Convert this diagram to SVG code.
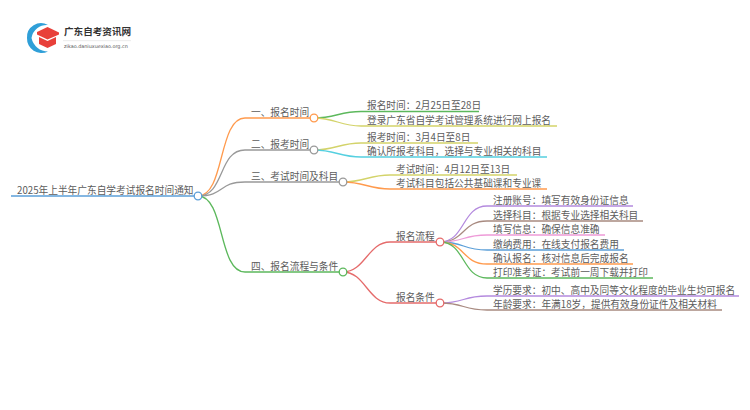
<svg xmlns="http://www.w3.org/2000/svg" width="750" height="410" viewBox="0 0 750 410">
<style>
text{font-family:"Noto Sans CJK SC","Liberation Sans",sans-serif;font-size:9.7px;fill:#5c5c5c}
.c path{fill:none;stroke-width:1.3}
circle{fill:#fff;stroke-width:1.3}
.o{stroke:#ff9a4d}.g{stroke:#999}.n{stroke:#5cb85c}.y{stroke:#d3d36a}.a{stroke:#55d0e0}.r{stroke:#e56b6b}.p{stroke:#b48ade}.b{stroke:#a88a80}.k{stroke:#ee9bd8}.l{stroke:#5b9fd8}
</style>
<rect width="750" height="410" fill="#fff"/>
<g id="logo">
<path d="M48 25A14 14 0 0 0 27 38A14.500 14.500 0 0 0 48 51.500A17 17 0 0 1 31.500 38A15.500 15.500 0 0 1 48 25Z" fill="#2f9fd8"/>
<path d="M47.500 27L59 32.500V34.500L47.500 39.500L37 34.500V32Z" fill="#e8403a"/>
<path d="M39 37L47.500 41L56 37V44L47.500 48L39 44Z" fill="#e8403a"/>
<text id="logo-title" x="64" y="35" style="font-size:9.6px;fill:#333;font-weight:700">广东自考资讯网</text>
<rect x="63" y="40.500" width="68" height="0.600" fill="#ddd"/>
<text id="logo-sub" x="64" y="48" style="font-family:'DejaVu Sans',sans-serif;font-size:4.900px;fill:#555">zikao.daniuxuexiao.org.cn</text>
</g>
<g class="c" id="connectors">
<path class="l" d="M11 196H198"/>
<path class="o" d="M198 196C225 196 218 118 245 118H314"/>
<path class="g" d="M198 196C225 196 218 150 245 150H314"/>
<path class="g" d="M198 196C225 196 218 182 245 182H343"/>
<path class="n" d="M198 196C225 196 218 272 245 272H343"/>
<path class="n" d="M314 118C335 118 340 111.500 361 111.500H479"/>
<path class="y" d="M314 118C335 118 340 126 361 126H557"/>
<path class="y" d="M314 150C335 150 340 143 361 143H478"/>
<path class="a" d="M314 150C335 150 340 157 361 157H547"/>
<path class="y" d="M343 182C364 182 369 175 390 175H517"/>
<path class="o" d="M343 182C364 182 369 189 390 189H547"/>
<path class="r" d="M343 272C365 272 368 242 390 242H440"/>
<path class="r" d="M343 272C365 272 368 303 390 303H440"/>
<path class="p" d="M440 242C465 242 462 206 487 206H633"/>
<path class="b" d="M440 242C465 242 462 221 487 221H643"/>
<path class="k" d="M440 242C465 242 462 235 487 235H605"/>
<path class="l" d="M440 242C465 242 462 250 487 250H624"/>
<path class="o" d="M440 242C465 242 462 264 487 264H633"/>
<path class="n" d="M440 242C465 242 462 278 487 278H653"/>
<path class="p" d="M440 303C465 303 462 296 487 296H739"/>
<path class="b" d="M440 303C465 303 462 310 487 310H722"/>
</g>
<g id="root"><text x="17" y="193.500">2025年上半年广东自学考试报名时间通知</text><circle class="l" cx="198" cy="196" r="3.800"/></g>
<g id="n1"><text x="251" y="116">一、报名时间</text><circle class="o" cx="314" cy="118" r="3.800"/></g>
<g id="n2"><text x="251" y="148">二、报考时间</text><circle class="g" cx="314" cy="150" r="3.800"/></g>
<g id="n3"><text x="251" y="180">三、考试时间及科目</text><circle class="g" cx="343" cy="182" r="3.800"/></g>
<g id="n4"><text x="251" y="270">四、报名流程与条件</text><circle class="n" cx="343" cy="272" r="3.800"/></g>
<g id="n11"><text x="367" y="109">报名时间：2月25日至28日</text></g>
<g id="n12"><text x="367" y="124">登录广东省自学考试管理系统进行网上报名</text></g>
<g id="n21"><text x="367" y="141">报考时间：3月4日至8日</text></g>
<g id="n22"><text x="367" y="155">确认所报考科目，选择与专业相关的科目</text></g>
<g id="n31"><text x="396" y="172.500">考试时间：4月12日至13日</text></g>
<g id="n32"><text x="396" y="187">考试科目包括公共基础课和专业课</text></g>
<g id="n41"><text x="396" y="240">报名流程</text><circle class="r" cx="440" cy="242" r="3.800"/></g>
<g id="n42"><text x="396" y="301">报名条件</text><circle class="r" cx="440" cy="303" r="3.800"/></g>
<g id="n411"><text x="493" y="204">注册账号：填写有效身份证信息</text></g>
<g id="n412"><text x="493" y="218.500">选择科目：根据专业选择相关科目</text></g>
<g id="n413"><text x="493" y="232.500">填写信息：确保信息准确</text></g>
<g id="n414"><text x="493" y="247.500">缴纳费用：在线支付报名费用</text></g>
<g id="n415"><text x="493" y="261.500">确认报名：核对信息后完成报名</text></g>
<g id="n416"><text x="493" y="276">打印准考证：考试前一周下载并打印</text></g>
<g id="n421"><text x="493" y="294">学历要求：初中、高中及同等文化程度的毕业生均可报名</text></g>
<g id="n422"><text x="493" y="308">年龄要求：年满18岁，提供有效身份证件及相关材料</text></g>
</svg>
